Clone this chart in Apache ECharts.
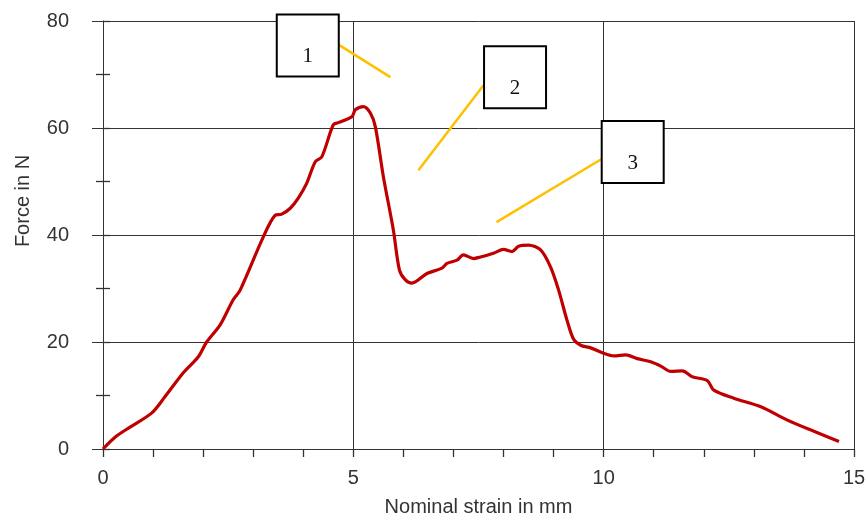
<!DOCTYPE html>
<html>
<head>
<meta charset="utf-8">
<script src="https://cdn.jsdelivr.net/npm/echarts@6/dist/echarts.min.js"></script>
<style>html,body{margin:0;padding:0;background:#fff}#c{width:866px;height:515px}</style>
</head>
<body>
<div id="c"></div>
<script>
// Nominal strain (mm)
var strain = [0, 0.24, 0.54, 0.97, 1.24, 1.6, 1.9, 2.07, 2.34, 2.6, 2.74, 3.2, 3.44, 3.57, 3.74, 3.9, 4.07, 4.24, 4.37, 4.6, 4.7, 4.97, 5.04, 5.2, 5.34, 5.44, 5.6, 5.8, 5.92, 6.04, 6.17, 6.47, 6.77, 6.87, 7.07, 7.2, 7.4, 7.54, 7.8, 8.0, 8.17, 8.3, 8.5, 8.74, 8.94, 9.1, 9.27, 9.4, 9.54, 9.74, 10.0, 10.2, 10.44, 10.67, 10.94, 11.14, 11.34, 11.57, 11.77, 12.07, 12.2, 12.6, 13.14, 13.67, 14.2, 14.7];
// Force (N)
var force = [0, 2.2, 4.1, 6.7, 9.8, 14.2, 17.2, 20.0, 23.2, 27.9, 29.7, 39.6, 43.7, 43.9, 45.0, 46.9, 49.7, 53.7, 54.6, 60.6, 61.0, 62.1, 63.4, 64.0, 62.8, 60.2, 50.9, 40.9, 33.5, 31.6, 31.0, 32.8, 33.8, 34.7, 35.3, 36.3, 35.6, 35.9, 36.6, 37.3, 36.9, 37.9, 38.1, 37.2, 34.0, 29.7, 24.0, 20.5, 19.4, 18.9, 17.9, 17.4, 17.6, 16.9, 16.3, 15.5, 14.5, 14.6, 13.5, 12.8, 11.0, 9.5, 7.9, 5.4, 3.3, 1.4];
// Annotation boxes (data coords of centre) and labels
var boxLabels = ['1', '2', '3'];
var boxX = [4.09, 8.23, 10.58];
var boxY = [75.4, 69.5, 55.5];
// Annotation leader lines
var leaderFrom = [[4.72, 75.5], [7.6, 68.0], [9.96, 54.2]];
var leaderTo = [[5.74, 69.5], [6.3, 52.1], [7.86, 42.4]];
// Axis ticks
var xTicks = [0, 5, 10, 15];
var yTicks = [0, 20, 40, 60, 80];

var curve = strain.map(function (s, i) { return [s, force[i]]; });
var boxes = boxLabels.map(function (t, i) { return { value: [boxX[i], boxY[i]], name: t }; });
var leaders = leaderFrom.map(function (f, i) { return { coords: [f, leaderTo[i]] }; });

var txt = '#333';
var font = '"Liberation Sans", Arial, sans-serif';
var chart = echarts.init(document.getElementById('c'), null, { renderer: 'canvas' });
chart.setOption({
  animation: false,
  backgroundColor: '#fff',
  grid: { left: 103, right: 12, top: 21, bottom: 66, show: false, containLabel: false, outerBoundsMode: 'none' },
  xAxis: {
    type: 'value', min: xTicks[0], max: xTicks[xTicks.length - 1], interval: 5,
    name: 'Nominal strain in mm', nameLocation: 'middle', nameGap: 48,
    nameTextStyle: { color: txt, fontSize: 20, fontFamily: font },
    axisLine: { show: true, onZero: false, lineStyle: { color: '#333', width: 1 } },
    axisTick: { show: true, length: 8, lineStyle: { color: '#333', width: 1.3 } },
    minorTick: { show: true, splitNumber: 5, length: 8, lineStyle: { color: '#333', width: 1.3 } },
    axisLabel: { color: txt, fontSize: 20, fontFamily: font, margin: 19 },
    splitLine: { show: true, lineStyle: { color: '#333', width: 1 } }
  },
  yAxis: [{
    type: 'value', min: yTicks[0], max: yTicks[yTicks.length - 1], interval: 20,
    name: 'Force in N', nameLocation: 'middle', nameGap: 70, nameRotate: 90,
    nameTextStyle: { color: txt, fontSize: 20, fontFamily: font, padding: [0, 0, 0, 68] },
    axisLine: { show: true, lineStyle: { color: '#333', width: 1 } },
    axisTick: { show: true, length: 11, lineStyle: { color: '#333', width: 1 } },
    minorTick: { show: true, splitNumber: 2, length: 7, lineStyle: { color: '#333', width: 1.3 } },
    axisLabel: { color: txt, fontSize: 20, fontFamily: font, margin: 34 },
    splitLine: { show: true, lineStyle: { color: '#333', width: 1 } }
  }, {
    type: 'value', position: 'left', min: 0, max: 80, interval: 10,
    axisLine: { show: false },
    axisTick: { show: true, inside: true, length: 7, lineStyle: { color: '#333', width: 1.3 } },
    axisLabel: { show: false }, splitLine: { show: false }
  }],
  series: [{
    type: 'line', data: curve, showSymbol: false, smooth: 0.3,
    lineStyle: { color: '#C00000', width: 3.2 }, z: 3
  }, {
    type: 'lines', coordinateSystem: 'cartesian2d', data: leaders,
    lineStyle: { color: '#FFC000', width: 2.5, opacity: 1 }, z: 4, clip: false
  }, {
    type: 'scatter', data: boxes, clip: false, symbol: 'rect', symbolSize: [62, 62],
    itemStyle: { color: '#fff', borderColor: '#000', borderWidth: 2, opacity: 1 },
    label: {
      show: true, position: 'inside', offset: [0, 11],
      formatter: function (p) { return p.name; },
      color: '#111', fontSize: 21, fontFamily: '"Liberation Serif", "Times New Roman", serif'
    },
    z: 5, silent: true
  }]
});
</script>
</body>
</html>
